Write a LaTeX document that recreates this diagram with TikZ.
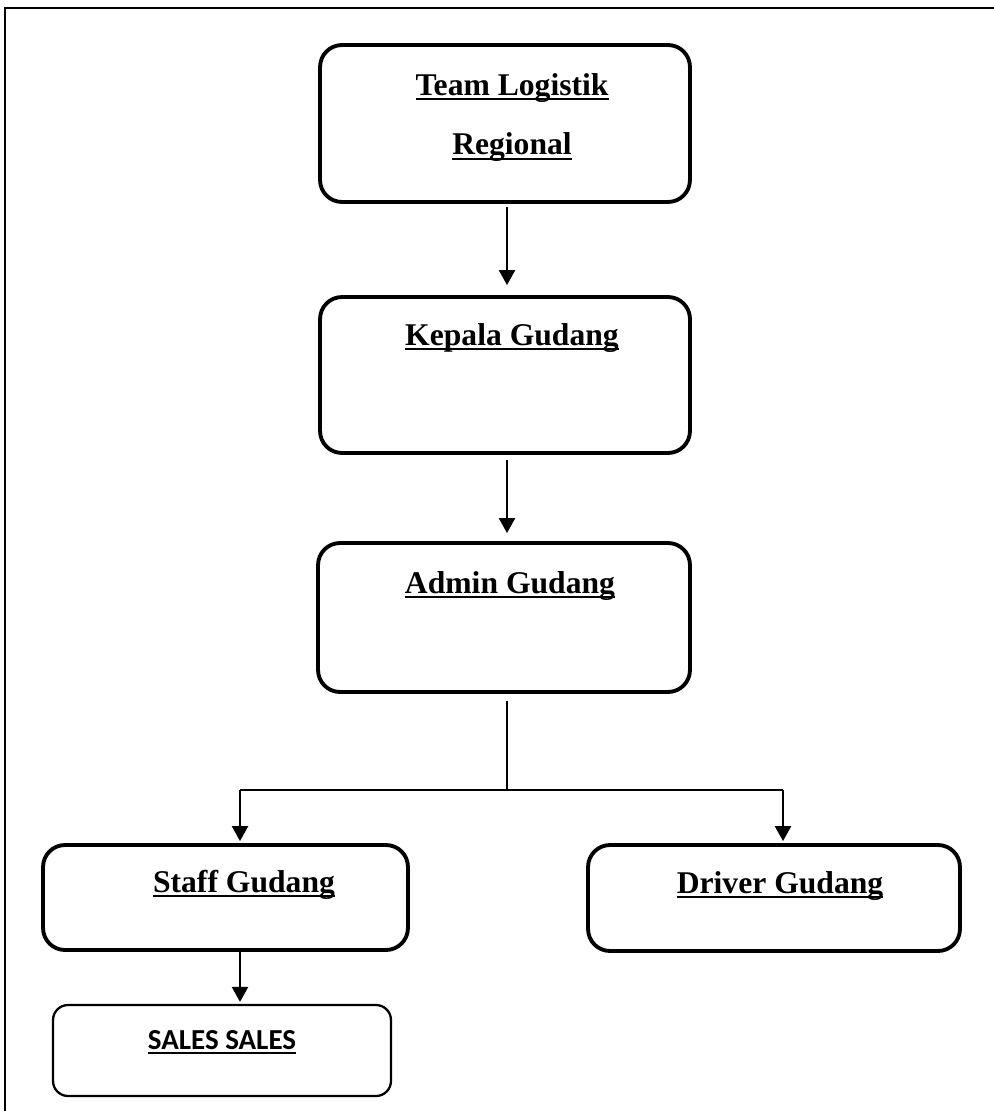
\documentclass[tikz,border=0pt]{standalone}
\usepackage{fontspec}
\setmainfont{Liberation Serif}
\newfontfamily\carlito{Carlito}
\usetikzlibrary{arrows.meta}

% underline sitting just below the baseline
\newcommand{\ulbox}[1]{\setbox0\hbox{#1}\rlap{\vrule height -1.5pt depth 2.9pt width \wd0}\box0}

\tikzset{
    box/.style={draw, line width=2.2pt, rounded corners=0.44cm, inner sep=0pt,
        font=\bfseries\fontsize{18}{21.6}\selectfont},
    smallbox/.style={draw, line width=1.3pt, rounded corners=0.3cm, inner sep=0pt,
        font=\carlito\bfseries\fontsize{16.5}{19.8}\selectfont},
    conn/.style={line width=1.4pt},
    arr/.style={conn, -{Triangle[width=0.32cm,length=0.3cm]}}
}

\begin{document}
\begin{tikzpicture}[x=0.02cm, y=-0.02cm]
        \useasboundingbox (0,0) rectangle (993,1111);

        %Frame
        \draw[line width=0.9pt] (5,1130) |- (1010,8);

        %Boxes
        \node[box, minimum width=7.4cm, minimum height=3.14cm, text height=2.2cm, text depth=0.94cm, align=center] (team) at (505,123.5)
            {\hspace*{0.28cm}\ulbox{Team Logistik}\\[0.44cm]\hspace*{0.28cm}\ulbox{Regional}};
        \node[box, minimum width=7.4cm, minimum height=3.12cm, text height=0.96cm, text depth=2.16cm] (kepala) at (505,375)
            {\hspace*{0.28cm}\ulbox{Kepala Gudang}};
        \node[box, minimum width=7.44cm, minimum height=2.98cm, text height=1.0cm, text depth=1.98cm] (admin) at (504,617.5)
            {\hspace*{0.24cm}\ulbox{Admin Gudang}};
        \node[box, minimum width=7.3cm, minimum height=2.1cm, text height=0.94cm, text depth=1.16cm] (staff) at (225.5,897.5)
            {\hspace*{0.74cm}\ulbox{Staff Gudang}};
        \node[box, minimum width=7.44cm, minimum height=2.12cm, text height=0.96cm, text depth=1.16cm] (driver) at (774,898)
            {\hspace*{0.24cm}\ulbox{Driver Gudang}};
        \node[smallbox, minimum width=6.76cm, minimum height=1.82cm, text height=0.88cm, text depth=0.94cm] (sales) at (222,1050.5)
            {\ulbox{SALES SALES}};

        %Connectors
        \coordinate (fork) at (507,790);
        \coordinate (lt) at (240,790);
        \coordinate (rt) at (783,790);

        \draw[arr, shorten <=0.06cm, shorten >=0.2cm] (team.south -| fork) -- (kepala.north -| fork);
        \draw[arr, shorten <=0.1cm, shorten >=0.16cm] (kepala.south -| fork) -- (admin.north -| fork);
        \draw[conn, shorten <=0.14cm] (admin.south -| fork) -- (fork);
        \draw[conn] (lt) -- (rt);
        \draw[arr, shorten >=0.04cm] (lt) -- (lt |- staff.north);
        \draw[arr, shorten >=0.04cm] (rt) -- (rt |- driver.north);
        \draw[arr, shorten >=0.04cm] (staff.south -| lt) -- (sales.north -| lt);

    \end{tikzpicture}
\end{document}
